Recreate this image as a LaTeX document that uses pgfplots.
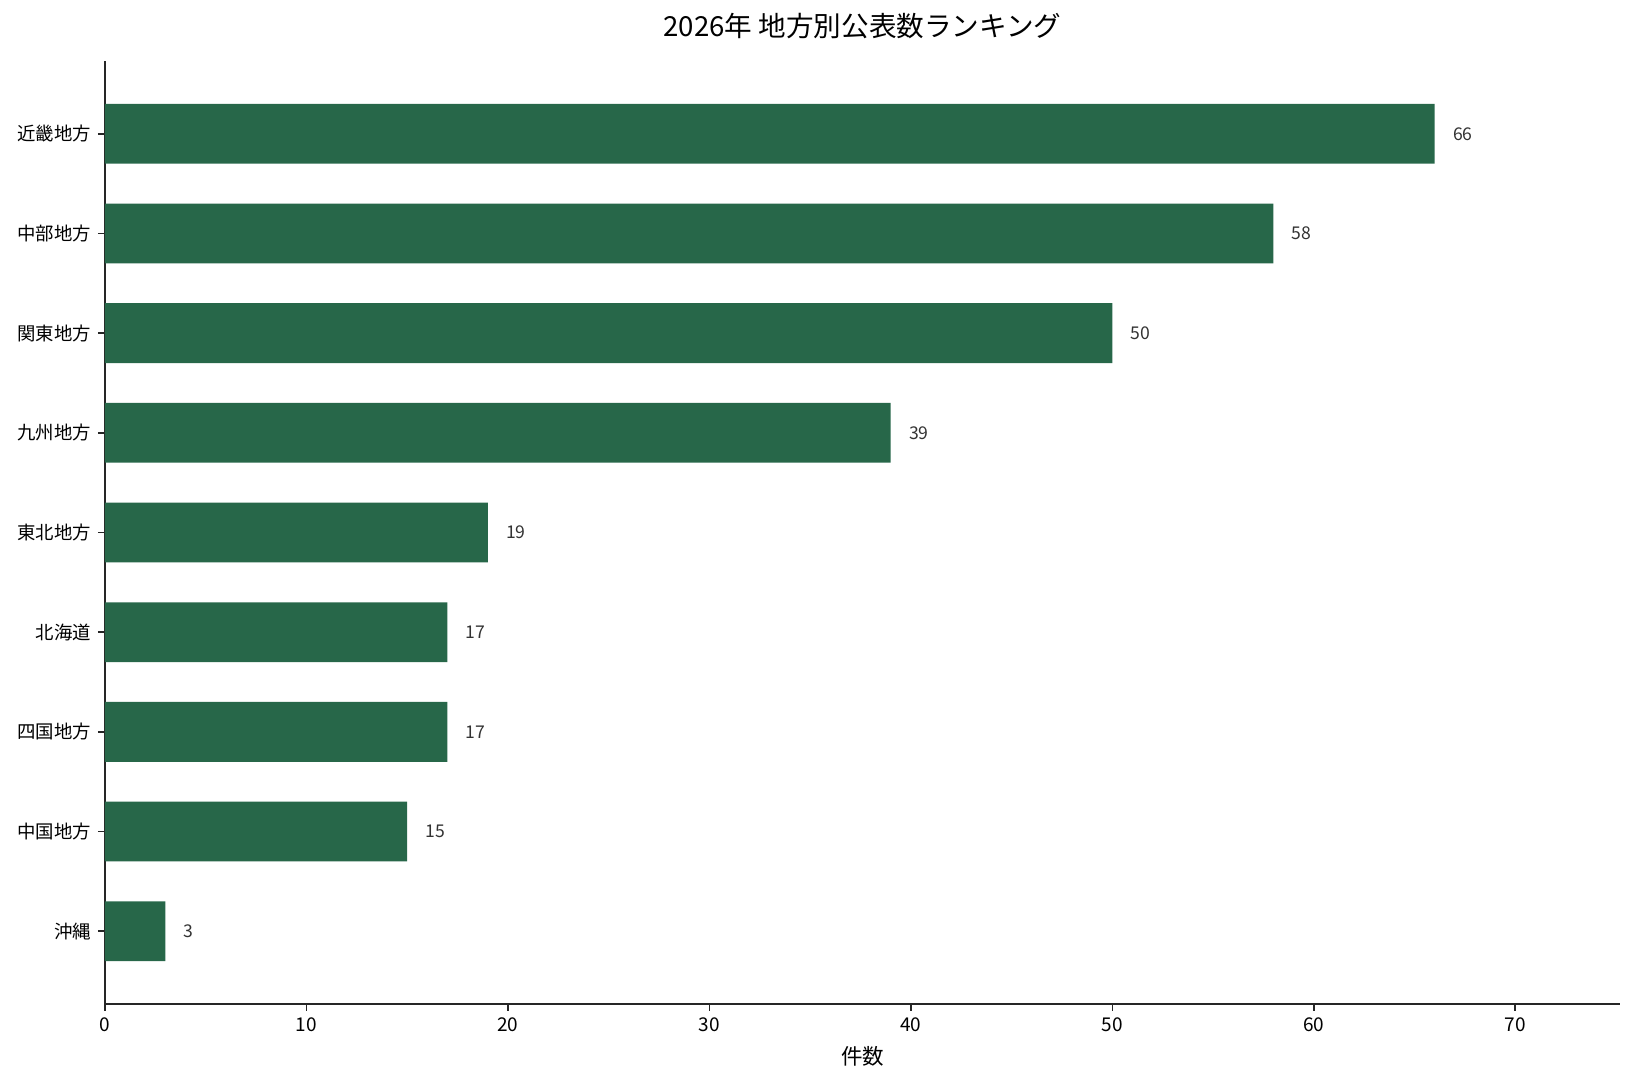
\documentclass[border=0pt]{standalone}
\usepackage{fontspec}
\setmainfont{Noto Sans CJK JP}
\usepackage{pgfplots}
\pgfplotsset{compat=1.18}
\definecolor{bargreen}{HTML}{276749}
\definecolor{labelgray}{HTML}{333333}
\begin{document}
\begin{tikzpicture}
    \useasboundingbox (0,0) rectangle (817.5pt,541pt);
    \begin{axis}[
        at={(52.5pt,39pt)}, anchor=south west,
        scale only axis,
        width=757.5pt, height=471.5pt,
        xbar, bar width=0.6,
        xmin=0, xmax=75.2,
        ymin=-0.73, ymax=8.73,
        axis x line*=bottom, axis y line*=left,
        axis line style={line width=0.8pt, black!85},
        tick style={line width=0.8pt, black!85},
        tick align=outside, major tick length=3.5pt,
        xtick={0,10,20,30,40,50,60,70},
        ytick={0,1,2,3,4,5,6,7,8},
        yticklabels={沖縄,中国地方,四国地方,北海道,東北地方,九州地方,関東地方,中部地方,近畿地方},
        /pgf/number format/assume math mode=true,
        xticklabel style={font=\fontsize{9.5pt}{11pt}\selectfont},
        yticklabel style={font=\fontsize{9.2pt}{11pt}\selectfont},
        xlabel={件数},
        xlabel style={at={(0.5,0)}, anchor=center, yshift=-26pt, font=\fontsize{10.75pt}{12pt}\selectfont},
        title={2026年 地方別公表数ランキング},
        title style={at={(0.5,1)}, anchor=center, yshift=11.5pt, font=\fontsize{13.8pt}{15pt}\selectfont},
        nodes near coords,
        nodes near coords style={anchor=west, inner sep=0pt, xshift=9pt, text=labelgray, font=\fontsize{8.8pt}{10pt}\selectfont},
    ]
        \addplot[fill=bargreen, draw=none] coordinates {
            (3,0)
            (15,1)
            (17,2)
            (17,3)
            (19,4)
            (39,5)
            (50,6)
            (58,7)
            (66,8)
        };
    \end{axis}
\end{tikzpicture}
\end{document}
